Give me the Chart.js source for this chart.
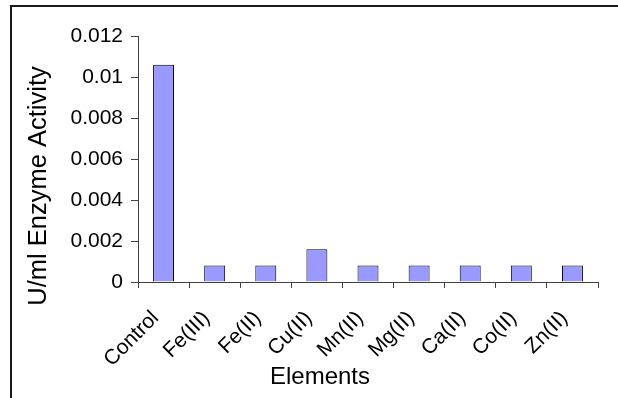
<!DOCTYPE html>
<html><head><meta charset="utf-8">
<script src="https://cdn.jsdelivr.net/npm/chart.js@4"></script>
<style>
html,body{margin:0;padding:0;background:#fff;}
#wrap{position:relative;width:618px;height:398px;overflow:hidden;background:#fff;}
#frame{position:absolute;left:10px;top:5px;width:620px;height:400px;border-top:2px solid #1a1a1a;border-left:2px solid #1a1a1a;pointer-events:none;}
canvas{position:absolute;left:0;top:0;}
</style></head><body>
<div id="wrap"><canvas id="c" width="618" height="398"></canvas><div id="frame"></div></div>
<script>
const categories = ['Control', 'Fe(III)', 'Fe(II)', 'Cu(II)', 'Mn(II)', 'Mg(II)', 'Ca(II)', 'Co(II)', 'Zn(II)'];
const activity = [0.0106, 0.0008, 0.0008, 0.0016, 0.0008, 0.0008, 0.0008, 0.0008, 0.0008];
const yTickLabels = ['0', '0.002', '0.004', '0.006', '0.008', '0.01', '0.012'];
const yTitle = 'U/ml Enzyme Activity';
const xTitle = 'Elements';

const FONT = '"Liberation Sans", Arial, sans-serif';
const AXIS = '#404040';

const axisTitlePlugin = {
  id: 'axisTitles',
  afterDraw(chart, args, opts) {
    const ctx = chart.ctx;
    for (const t of opts.items) {
      ctx.save();
      ctx.font = t.size + 'px ' + FONT;
      ctx.fillStyle = '#000';
      ctx.textAlign = 'center';
      ctx.textBaseline = 'middle';
      ctx.translate(t.x, t.y);
      ctx.rotate(t.rotation || 0);
      ctx.fillText(t.text, 0, 0);
      ctx.restore();
    }
  }
};

new Chart(document.getElementById('c'), {
  type: 'bar',
  data: {
    labels: categories,
    datasets: [{
      data: activity,
      backgroundColor: '#9999FF',
      borderColor: '#000000',
      borderWidth: 1,
      barPercentage: 0.41,
      categoryPercentage: 1.0
    }]
  },
  plugins: [axisTitlePlugin],
  options: {
    responsive: false,
    animation: false,
    devicePixelRatio: 1,
    layout: { padding: { top: 36, right: 20, left: 0, bottom: 0 } },
    plugins: {
      legend: { display: false },
      tooltip: { enabled: false },
      axisTitles: {
        items: [
          { text: xTitle, x: 320, y: 377, size: 24 },
          { text: yTitle, x: 39, y: 186, size: 25.5, rotation: -Math.PI / 2 }
        ]
      }
    },
    scales: {
      x: {
        afterFit: s => { s.height = 116; },
        grid: { offset: true, drawOnChartArea: false, drawTicks: true, tickLength: 6, color: AXIS },
        border: { display: true, color: AXIS, width: 1 },
        ticks: {
          color: '#000', font: { family: FONT, size: 21 },
          maxRotation: 45, minRotation: 45, padding: 18, labelOffset: -8, autoSkip: false
        }
      },
      y: {
        min: 0, max: 0.012,
        afterFit: s => { s.width = 138; },
        grid: { drawOnChartArea: false, drawTicks: true, tickLength: 7, color: AXIS },
        border: { display: true, color: AXIS, width: 1 },
        ticks: {
          stepSize: 0.002, color: '#000', font: { family: FONT, size: 21 }, padding: 8,
          callback: (v, i) => yTickLabels[i]
        }
      }
    }
  }
});
</script>
</body></html>
